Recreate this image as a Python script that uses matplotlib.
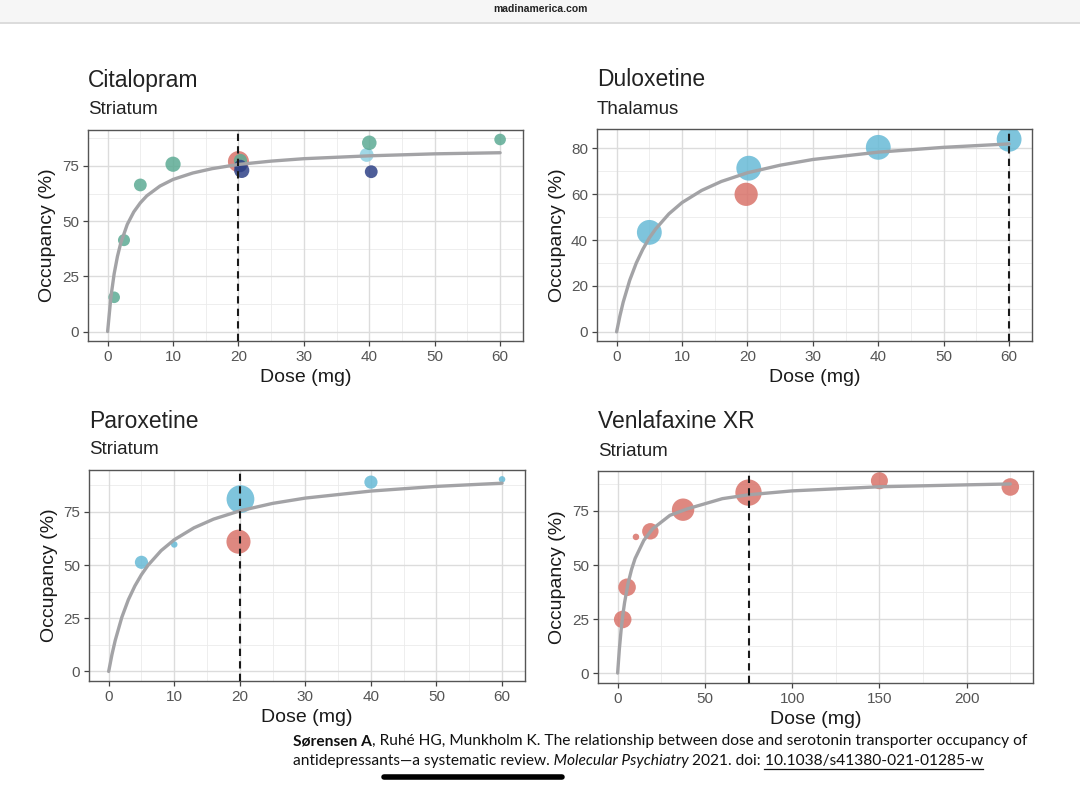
import matplotlib
matplotlib.use('Agg')
import matplotlib.pyplot as plt
from matplotlib.lines import Line2D
from matplotlib.patches import Rectangle

W, H = 1080, 788

# ---- data ----
# citalopram, striatum
cit_dose = [1, 2.5, 5, 10, 20, 20.3, 20.5, 20.3, 39.6, 40, 40.3, 60]
cit_occ = [15.5, 41.4, 66.4, 75.8, 77, 77.5, 73, 75, 80, 85.5, 72.4, 87]
cit_size = [70, 75, 85, 120, 230, 90, 120, 80, 100, 110, 85, 70]
cit_col = ['teal', 'teal', 'teal', 'teal', 'red', 'teal', 'navy', 'navy',
           'cyan', 'teal', 'navy', 'teal']
cit_fit_dose = [0, 0.5, 1, 1.5, 2, 3, 4, 5, 6, 8, 10, 13, 16, 20, 25, 30, 40, 50, 60]
cit_fit_occ = [0, 15.6, 26.2, 34, 40, 48.5, 54.2, 58.3, 61.5, 65.9, 68.9, 71.8,
               73.8, 75.7, 77.2, 78.3, 79.6, 80.5, 81]

# duloxetine, thalamus
dul_dose = [5, 20.2, 19.8, 40, 60]
dul_occ = [43.4, 71.4, 60, 80.5, 84]
dul_size = [320, 320, 280, 320, 320]
dul_col = ['blue', 'blue', 'red', 'blue', 'blue']
dul_fit_dose = [0, 0.5, 1, 2, 3, 4, 5, 6, 8, 10, 13, 16, 20, 25, 30, 40, 50, 60]
dul_fit_occ = [0, 6.9, 12.9, 22.5, 30, 36, 41, 45, 51.5, 56.4, 61.7, 65.6, 69.4,
               72.7, 75.2, 78.4, 80.5, 82]

# paroxetine, striatum
par_dose = [5, 10, 20.1, 19.8, 40, 60]
par_occ = [51.3, 59.7, 81, 61, 89, 90.3]
par_size = [90, 22, 400, 300, 90, 22]
par_col = ['blue', 'blue', 'blue', 'red', 'blue', 'blue']
par_fit_dose = [0, 0.5, 1, 2, 3, 4, 5, 6, 8, 10, 13, 16, 20, 25, 30, 40, 50, 60]
par_fit_occ = [0, 7.9, 14.6, 25.4, 33.7, 40.2, 45.5, 49.9, 56.8, 61.9, 67.5, 71.6,
               75.5, 79, 81.5, 84.8, 87, 88.5]

# venlafaxine XR, striatum
ven_dose = [2.9, 5.4, 10.5, 18.75, 37.5, 75, 150, 225]
ven_occ = [24.8, 39.7, 63, 65.6, 75.6, 83.5, 89, 86.1]
ven_size = [160, 160, 22, 140, 260, 360, 150, 160]
ven_col = ['red'] * 8
ven_fit_dose = [0, 1, 2, 3, 4, 6, 8, 10, 15, 20, 30, 40, 60, 75, 100, 150, 200, 225]
ven_fit_occ = [0, 11.2, 20, 27, 32.7, 41.6, 48, 53, 61.4, 66.7, 73, 76, 80.7,
               82.5, 84.3, 86.2, 87.1, 87.5]

palette = {'teal': '#5dab94', 'red': '#d9736a', 'navy': '#2f4287',
           'cyan': '#8fd1e2', 'blue': '#67bad6'}

plt.rcParams['font.family'] = ['Liberation Sans', 'DejaVu Sans']

fig = plt.figure(figsize=(W / 100, H / 100), dpi=100)
fig.patch.set_facecolor('white')


def fx(px):
    return px / W


def fy(py):
    return 1 - py / H


def make_panel(box, dose, occ, size, col, fdose, focc, refdose,
               xlim, ylim, xmaj, xmin, ymaj, ymin, title, sub):
    l, t, r, b = box
    ax = fig.add_axes([fx(l), fy(b), fx(r - l), (b - t) / H])
    ax.set_xlim(*xlim)
    ax.set_ylim(*ylim)
    for v in xmin:
        ax.axvline(v, color='#ebebeb', lw=0.6, zorder=0)
    for v in ymin:
        ax.axhline(v, color='#ebebeb', lw=0.6, zorder=0)
    for v in xmaj:
        ax.axvline(v, color='#dcdcdc', lw=1.0, zorder=0)
    for v in ymaj:
        ax.axhline(v, color='#dcdcdc', lw=1.0, zorder=0)
    ax.scatter(dose, occ, s=size, c=[palette[c] for c in col], alpha=0.85,
               edgecolors='none', zorder=2)
    ax.plot(fdose, focc, color='#a3a3a6', lw=2.4, solid_capstyle='round',
            solid_joinstyle='round', zorder=3)
    ax.axvline(refdose, color='#1a1a1a', lw=1.5, ls=(0, (3.5, 2.5)), zorder=4)
    ax.set_xticks(xmaj)
    ax.set_yticks(ymaj)
    ax.tick_params(length=3.5, width=0.9, color='#444444', labelsize=11,
                   labelcolor='#555555', pad=3)
    for sp in ax.spines.values():
        sp.set_color('#555555')
        sp.set_linewidth(1.0)
    fig.text(fx(l), fy(t - 49), title, fontsize=16.5, color='#222222',
             ha='left', va='center')
    fig.text(fx(l), fy(t - 20), sub, fontsize=13.5, color='#222222',
             ha='left', va='center')
    fig.text(fx((l + r) / 2), fy(b + 37), 'Dose (mg)', fontsize=14,
             color='#1a1a1a', ha='center', va='center')
    fig.text(fx(l - 40), fy((t + b) / 2), 'Occupancy (%)', fontsize=14,
             color='#1a1a1a', ha='center', va='center', rotation=90)
    return ax


make_panel((88, 130, 523, 341), cit_dose, cit_occ, cit_size, cit_col,
           cit_fit_dose, cit_fit_occ, 20, (-3, 63.5), (-4.3, 91.3),
           [0, 10, 20, 30, 40, 50, 60], [5, 15, 25, 35, 45, 55],
           [0, 25, 50, 75], [12.5, 37.5, 62.5, 87.5], 'Citalopram', 'Striatum')
make_panel((597, 129, 1032, 341), dul_dose, dul_occ, dul_size, dul_col,
           dul_fit_dose, dul_fit_occ, 60, (-3, 63.5), (-4, 88.5),
           [0, 10, 20, 30, 40, 50, 60], [5, 15, 25, 35, 45, 55],
           [0, 20, 40, 60, 80], [10, 30, 50, 70], 'Duloxetine', 'Thalamus')
make_panel((89, 470, 525, 681), par_dose, par_occ, par_size, par_col,
           par_fit_dose, par_fit_occ, 20, (-3, 63.5), (-4.5, 94.7),
           [0, 10, 20, 30, 40, 50, 60], [5, 15, 25, 35, 45, 55],
           [0, 25, 50, 75], [12.5, 37.5, 62.5, 87.5], 'Paroxetine', 'Striatum')
make_panel((598, 471, 1033, 683), ven_dose, ven_occ, ven_size, ven_col,
           ven_fit_dose, ven_fit_occ, 75, (-11.25, 238), (-4.6, 93.5),
           [0, 50, 100, 150, 200], [25, 75, 125, 175, 225],
           [0, 25, 50, 75], [12.5, 37.5, 62.5, 87.5], 'Venlafaxine XR', 'Striatum')

# browser header
fig.patches.append(Rectangle((0, fy(22)), 1, 22 / H, transform=fig.transFigure,
                             facecolor='#f6f6f6', edgecolor='none', zorder=0))
fig.lines.append(Line2D([0, 1], [fy(23), fy(23)], transform=fig.transFigure,
                        color='#d6d6d6', lw=1.2))
fig.text(0.5, fy(9), 'madinamerica.com', fontsize=7.5, fontweight='bold',
         color='#222222', ha='center', va='center')

# citation, built from styled runs
renderer = fig.canvas.get_renderer()


def put_runs(x_px, y_px, runs, size=11.15):
    x = x_px
    for txt, kw in runs:
        t = fig.text(fx(x), fy(y_px), txt, fontsize=size, ha='left', va='center',
                     color='#111111', family=['Lato', 'DejaVu Sans'],
                     **{k: v for k, v in kw.items() if k != 'underline'})
        bb = t.get_window_extent(renderer)
        if kw.get('underline'):
            fig.lines.append(Line2D([fx(x + 3), fx(x + bb.width)],
                                    [fy(y_px + 8), fy(y_px + 8)],
                                    transform=fig.transFigure, color='#111111', lw=0.9))
        x += bb.width


put_runs(293, 741, [('Sørensen A', {'fontweight': 'bold'}),
                    (', Ruhé HG, Munkholm K. The relationship between dose and '
                     'serotonin transporter occupancy of', {})])
put_runs(293, 761, [('antidepressants—a systematic review.', {}),
                    (' Molecular Psychiatry', {'fontstyle': 'italic'}),
                    (' 2021. doi:', {}),
                    (' 10.1038/s41380-021-01285-w', {'underline': True})])

# phone home indicator
fig.lines.append(Line2D([fx(384), fx(562)], [fy(777), fy(777)],
                        transform=fig.transFigure, color='black', lw=4,
                        solid_capstyle='round'))

fig.savefig('out.png', dpi=100)
